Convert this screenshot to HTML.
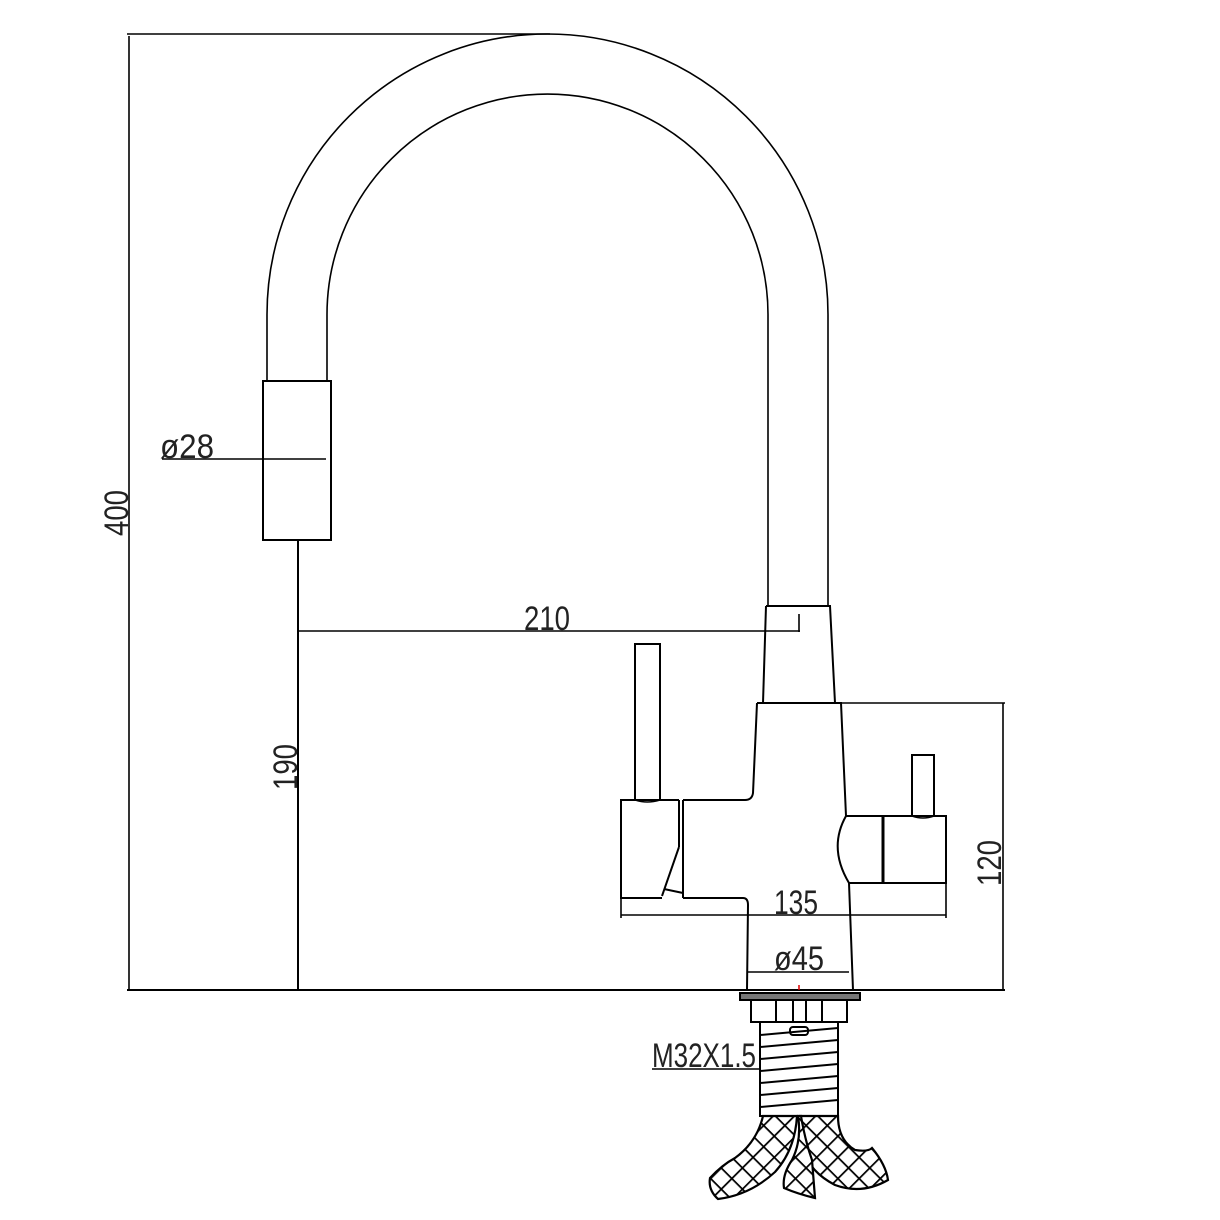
<!DOCTYPE html>
<html><head><meta charset="utf-8"><style>html,body{margin:0;padding:0;background:#fff}svg{display:block}</style></head><body>
<svg width="1220" height="1220" viewBox="0 0 1220 1220" xmlns="http://www.w3.org/2000/svg">
<defs>
<pattern id="hatch" patternUnits="userSpaceOnUse" width="15" height="15" patternTransform="rotate(45)">
<rect width="15" height="15" fill="#fff"/>
<path d="M0 0H15M0 0V15" stroke="#000" stroke-width="3.5"/>
</pattern>
</defs>
<g fill="none" stroke="#000" stroke-width="1.6">
<line x1="127" y1="34" x2="550" y2="34"/>
<line x1="129" y1="36" x2="129" y2="990"/>
<path d="M267 381 V314.5 A280.5 280.5 0 0 1 828 314.5 V606"/>
<path d="M327 381 V314.5 A220.5 220.5 0 0 1 768 314.5 V606"/>
<rect x="263" y="381" width="68" height="159" stroke-width="2"/>
<line x1="162" y1="459" x2="326" y2="459"/>
<line x1="298" y1="540" x2="298" y2="990" stroke-width="2"/>
<line x1="298" y1="631" x2="800" y2="631"/>
<line x1="799" y1="614" x2="799" y2="632"/>
<path d="M766 606 H830 L835 703 M766 606 L763 703" stroke-width="2"/>
<path d="M757 703 H841 L846 816 M757 703 L753 793 Q752 800 745 800 H683" stroke-width="2"/>
<path d="M846 816 Q828 848 849 883 L853 990" stroke-width="2"/>
<path d="M846 816 H946 V883 H849" stroke-width="2"/>
<line x1="883" y1="816" x2="883" y2="883" stroke-width="3"/>
<path d="M912 816 V755 H934 V816" stroke-width="2"/>
<path d="M912 816 Q923 820 934 816" stroke-width="1.5"/>
<path d="M679 800 H621 V898 H662" stroke-width="2"/>
<path d="M635 800 V644 H660 V800" stroke-width="2"/>
<path d="M635 800 Q647 804 660 800" stroke-width="1.5"/>
<line x1="679" y1="800" x2="679" y2="847" stroke-width="2"/>
<line x1="683" y1="800" x2="683" y2="898" stroke-width="2"/>
<path d="M679 847 L662 896 M664 889 L683 893" stroke-width="2"/>
<path d="M683 898 H743 Q748 898 748 905 L747 990" stroke-width="2"/>
<line x1="621" y1="915" x2="946" y2="915"/>
<line x1="621" y1="898" x2="621" y2="918"/>
<line x1="946" y1="883" x2="946" y2="918"/>
<line x1="747" y1="972" x2="849" y2="972"/>
<line x1="127" y1="990" x2="1005" y2="990" stroke-width="2"/>
<line x1="841" y1="703" x2="1005" y2="703"/>
<line x1="1003" y1="703" x2="1003" y2="990"/>
<rect x="740" y="993" width="120" height="7" fill="#777" stroke-width="2"/>
<rect x="751" y="1000" width="96" height="22" stroke-width="2"/>
<path d="M776 1000V1022M793 1000V1022M806 1000V1022M822 1000V1022" stroke-width="2"/>
<rect x="790" y="1027" width="18" height="8" rx="3" stroke-width="2"/>
<rect x="760" y="1022" width="78" height="94" stroke-width="2"/>
<path d="M760 1035 L838 1028 M760 1047 L838 1040 M760 1059 L838 1052 M760 1071 L838 1064 M760 1083 L838 1076 M760 1095 L838 1088 M760 1107 L838 1100" stroke-width="2"/>
<line x1="652" y1="1069" x2="760" y2="1069"/>
<path d="M763 1116 H797 Q795 1150 775 1172 Q750 1195 718 1199 Q708 1190 710 1178 Q722 1165 735 1158 Q757 1142 763 1116 Z" fill="url(#hatch)" stroke-width="2.2"/>
<path d="M800 1116 H838 Q838 1140 855 1150 Q868 1152 872 1148 Q886 1165 888 1180 Q862 1195 835 1185 Q810 1172 803 1150 Z" fill="url(#hatch)" stroke-width="2.2"/>
<path d="M798 1116 Q802 1140 792 1160 Q782 1175 784 1188 Q798 1194 815 1198 L812 1160 Q805 1140 801 1116 Z" fill="url(#hatch)" stroke-width="2.2"/>
</g>
<g font-family="Liberation Sans Narrow, Liberation Sans, sans-serif" font-size="34" fill="#222">
<text x="160" y="458" textLength="54" lengthAdjust="spacingAndGlyphs">ø28</text>
<text x="524" y="630" textLength="46" lengthAdjust="spacingAndGlyphs">210</text>
<text x="774" y="914" textLength="44" lengthAdjust="spacingAndGlyphs">135</text>
<text x="774" y="970" textLength="50" lengthAdjust="spacingAndGlyphs">ø45</text>
<text x="652" y="1067" textLength="104" lengthAdjust="spacingAndGlyphs">M32X1.5</text>
<text transform="translate(128,536) rotate(-90)" textLength="46" lengthAdjust="spacingAndGlyphs">400</text>
<text transform="translate(297,790) rotate(-90)" textLength="46" lengthAdjust="spacingAndGlyphs">190</text>
<text transform="translate(1001,886) rotate(-90)" textLength="46" lengthAdjust="spacingAndGlyphs">120</text>
</g>
<line x1="799" y1="985" x2="799" y2="990" stroke="#d00" stroke-width="1.5"/>
</svg>
</body></html>
